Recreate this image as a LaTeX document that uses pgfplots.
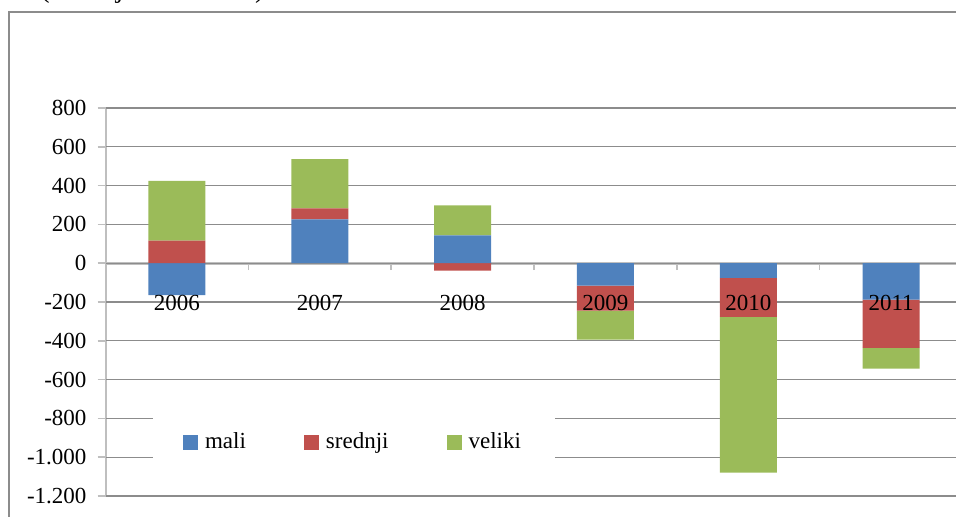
\documentclass[border=0pt]{standalone}
\usepackage{pgfplots}
\pgfplotsset{compat=1.18}
\usepackage{fontspec}
\setmainfont{Liberation Serif}
\definecolor{cmali}{HTML}{4F81BD}
\definecolor{csrednji}{HTML}{C0504D}
\definecolor{cveliki}{HTML}{9BBB59}
\definecolor{gridc}{HTML}{8C8C8C}
\definecolor{axc}{HTML}{BFBFBF}
\pgfplotsset{
  common/.style={
    scale only axis, width=428.5pt, height=194pt,
    at={(52.75pt,10pt)}, anchor=south west,
    xmin=-0.5, xmax=5.5, ymin=-1200, ymax=800,
    ybar stacked, bar width=28.5pt,
  },
  legimg/.style={legend image code/.code={\fill[##1] (0pt,-3.75pt) rectangle (7.5pt,3.75pt);}},
}
\begin{document}
\begin{tikzpicture}
\useasboundingbox (0,0) rectangle (478pt,258pt);
\draw[gridc, line width=0.8pt] (4.5pt,-5pt) -- (4.5pt,252pt) -- (490pt,252pt);
\node[anchor=base west, inner sep=0, font=\fontsize{14}{16}\selectfont] at (20pt,259.5pt) {(u milijunima kuna)};
% negative parts, axes, grid and legend
\begin{axis}[common,
  axis x line=middle, axis y line=left,
  axis line style={-},
  x axis line style={axc, line width=1.4pt},
  y axis line style={axc, line width=1pt},
  ytick=\empty,
  extra y ticks={-1200,-1000,-800,-600,-400,-200,0,200,400,600,800},
  extra y tick labels={-1.200,-1.000,-800,-600,-400,-200,0,200,400,600,800},
  extra y tick style={grid=major, major tick length=4pt, tick align=outside},
  grid style={gridc, line width=0.6pt},
  xtick={0,1,2,3,4,5},
  xticklabels={},
  minor xtick={0.5,1.5,2.5,3.5,4.5},
  tick align=outside,
  major tick length=0pt, minor tick length=3.5pt,
  tick style={axc, line width=0.8pt},
  minor tick style={axc, line width=0.8pt},
  tick label style={font=\fontsize{11.5}{13}\selectfont},
  yticklabel style={xshift=-2pt},
  legend columns=3,
  legend style={at={(rel axis cs:0.29,0.138)}, anchor=center, draw=none, fill=white,
    font=\fontsize{11.5}{13}\selectfont, inner xsep=15pt, inner ysep=9pt,
    /tikz/every odd column/.append style={column sep=1.5pt},
    /tikz/every even column/.append style={column sep=27pt}},
  legimg,
]
\addplot[fill=cmali, draw=none] coordinates {(0,-165) (1,0) (2,0) (3,-115) (4,-75) (5,-188)};
\addplot[fill=csrednji, draw=none] coordinates {(0,0) (1,0) (2,-38) (3,-130) (4,-201) (5,-248)};
\addplot[fill=cveliki, draw=none] coordinates {(0,0) (1,0) (2,0) (3,-149) (4,-804) (5,-107)};
\legend{mali,srednji,veliki}
\end{axis}
% positive parts
\begin{axis}[common, hide axis]
\addplot[fill=cmali, draw=none] coordinates {(0,0) (1,226) (2,143) (3,0) (4,0) (5,0)};
\addplot[fill=csrednji, draw=none] coordinates {(0,117) (1,57) (2,0) (3,0) (4,0) (5,0)};
\addplot[fill=cveliki, draw=none] coordinates {(0,307) (1,253) (2,155) (3,0) (4,0) (5,0)};
\end{axis}
% category labels on top of the bars
\begin{axis}[common,
  axis x line=middle, axis y line=none,
  axis line style={draw=none},
  ytick=\empty,
  xtick={0,1,2,3,4,5},
  xticklabels={2006,2007,2008,2009,2010,2011},
  major tick length=0pt,
  tick label style={font=\fontsize{11.5}{13}\selectfont},
  xticklabel style={anchor=north, yshift=-12.5pt},
]
\end{axis}
\end{tikzpicture}
\end{document}
